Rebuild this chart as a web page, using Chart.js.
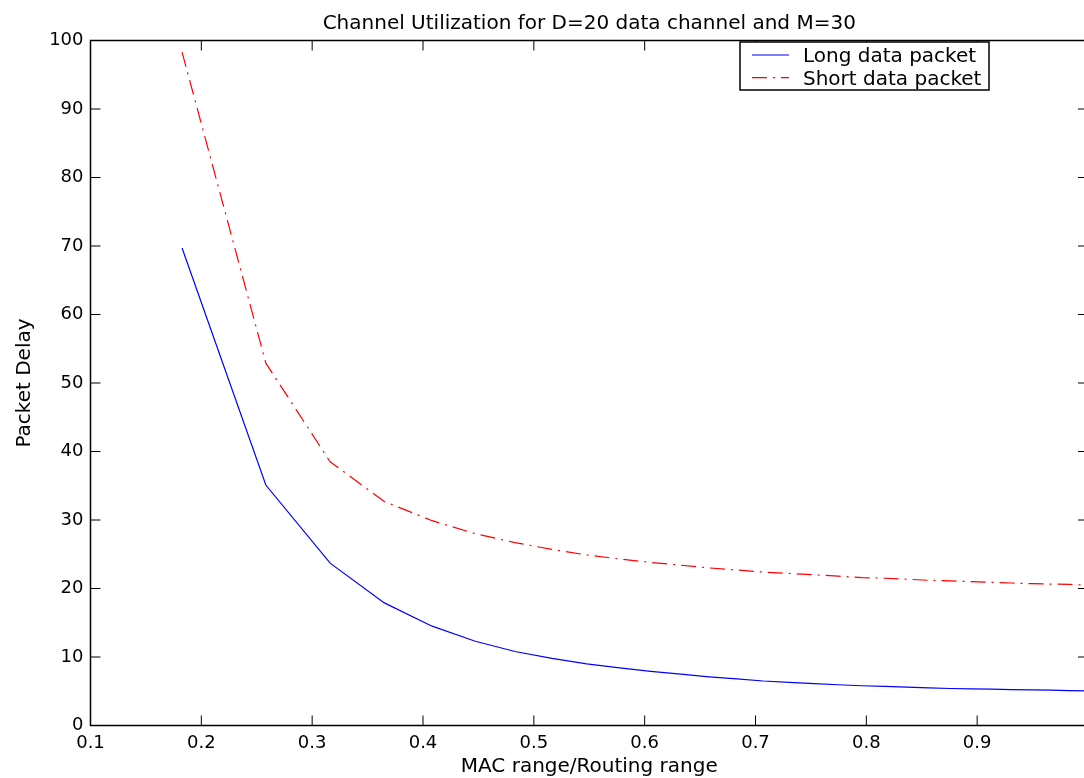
<!DOCTYPE html>
<html lang="en">
<head>
  <meta charset="UTF-8">
  <title>Channel Utilization for D=20 data channel and M=30</title>
  <script src="https://cdn.jsdelivr.net/npm/chart.js"></script>
  <style>
    html, body { margin: 0; padding: 0; background: #fff; overflow: hidden; }
    canvas { display: block; }
  </style>
</head>
<body>
  <canvas id="delayChart" width="1100" height="778"></canvas>

  <script>
    // MAC range / routing range of each run
    const ratio = [
      0.1826, 0.2582, 0.3162, 0.3651, 0.4082, 0.4472, 0.4830, 0.5164, 0.5477, 0.5774,
      0.6055, 0.6325, 0.6583, 0.6831, 0.7071, 0.7303, 0.7528, 0.7746, 0.7958, 0.8165,
      0.8367, 0.8563, 0.8756, 0.8944, 0.9129, 0.9309, 0.9487, 0.9661, 0.9832, 1.0000
    ];

    // packet delay, long data packets
    const longPacket = [
      69.7, 35.1, 23.7, 17.9, 14.5, 12.3, 10.8, 9.8, 9.0, 8.4,
      7.9, 7.5, 7.1, 6.8, 6.5, 6.3, 6.1, 5.95, 5.8, 5.7,
      5.6, 5.5, 5.4, 5.35, 5.3, 5.25, 5.2, 5.15, 5.1, 5.05
    ];

    // packet delay, short data packets
    const shortPacket = [
      98.3, 52.9, 38.5, 32.7, 29.9, 28.0, 26.7, 25.7, 24.9, 24.3,
      23.8, 23.4, 23.0, 22.7, 22.4, 22.2, 22.0, 21.8, 21.6, 21.5,
      21.35, 21.2, 21.1, 21.0, 20.9, 20.8, 20.7, 20.65, 20.6, 20.5
    ];

    const seriesNames = ['Long data packet', 'Short data packet'];

    const FONT = 'DejaVu Sans';
    Chart.defaults.font.family = FONT;
    Chart.defaults.color = '#000';

    function points(ys) {
      return ratio.map((r, i) => ({ x: r, y: ys[i] }));
    }

    // box round the plot with ticks pointing inward on all four sides
    const boxFrame = {
      id: 'boxFrame',
      afterDraw(chart) {
        const { ctx, chartArea: a, scales: { x, y } } = chart;
        ctx.save();
        ctx.strokeStyle = '#000';
        ctx.lineWidth = 1;
        ctx.beginPath();
        x.ticks.forEach(t => {
          const px = x.getPixelForValue(t.value);
          ctx.moveTo(px, a.bottom); ctx.lineTo(px, a.bottom - 10);
          ctx.moveTo(px, a.top); ctx.lineTo(px, a.top + 10);
        });
        y.ticks.forEach(t => {
          const py = y.getPixelForValue(t.value);
          ctx.moveTo(a.left, py); ctx.lineTo(a.left + 10, py);
          ctx.moveTo(a.right, py); ctx.lineTo(a.right - 10, py);
        });
        ctx.stroke();
        ctx.lineWidth = 1.5;
        ctx.strokeRect(a.left, a.top, a.right - a.left, a.bottom - a.top);
        ctx.restore();
      }
    };

    // legend box in the upper right of the axes
    const boxLegend = {
      id: 'boxLegend',
      afterDraw(chart) {
        const { ctx } = chart;
        const left = 740, top = 42, w = 249, h = 48;
        ctx.save();
        ctx.fillStyle = '#fff';
        ctx.fillRect(left, top, w, h);
        ctx.strokeStyle = '#000';
        ctx.lineWidth = 1.5;
        ctx.strokeRect(left, top, w, h);
        ctx.font = '20px "' + FONT + '"';
        ctx.textBaseline = 'alphabetic';
        chart.data.datasets.forEach((ds, i) => {
          const ly = top + 13 + i * 22.7;
          ctx.beginPath();
          ctx.strokeStyle = ds.borderColor;
          ctx.lineWidth = ds.borderWidth;
          ctx.setLineDash(ds.borderDash || []);
          ctx.moveTo(752, ly);
          ctx.lineTo(789, ly);
          ctx.stroke();
          ctx.setLineDash([]);
          ctx.fillStyle = '#000';
          ctx.fillText(ds.label, 803, ly + 7);
        });
        ctx.restore();
      }
    };

    new Chart(document.getElementById('delayChart'), {
      type: 'line',
      data: {
        datasets: [
          {
            label: seriesNames[0],
            data: points(longPacket),
            borderColor: '#0000ff',
            borderWidth: 1.2,
            pointRadius: 0,
            tension: 0,
            fill: false
          },
          {
            label: seriesNames[1],
            data: points(shortPacket),
            borderColor: '#ff0000',
            borderWidth: 1.2,
            borderDash: [15, 6, 2, 6],
            pointRadius: 0,
            tension: 0,
            fill: false
          }
        ]
      },
      options: {
        responsive: false,
        animation: false,
        layout: { padding: { right: 12 } },
        plugins: {
          legend: { display: false },
          tooltip: { enabled: false },
          title: {
            display: true,
            fullSize: false,
            text: 'Channel Utilization for D=20 data channel and M=30',
            color: '#000',
            font: { family: FONT, size: 20, weight: 'normal', lineHeight: 1.2 },
            padding: { top: 12, bottom: 4.5 }
          }
        },
        scales: {
          x: {
            type: 'linear',
            min: 0.1,
            max: 1.0,
            grid: { display: false, drawTicks: false },
            border: { display: false },
            ticks: {
              stepSize: 0.1,
              padding: 7,
              font: { family: FONT, size: 18 },
              color: '#000',
              maxRotation: 0,
              // the label at 1 sits on the cut right edge, leave it out
              callback: v => (v > 0.95 ? '' : Number(v.toFixed(1)).toString())
            },
            title: {
              display: true,
              text: 'MAC range/Routing range',
              font: { family: FONT, size: 20, lineHeight: 1.1 },
              color: '#000',
              padding: { top: 0, bottom: 0 }
            },
            afterFit: s => { s.height = 52.5; }
          },
          y: {
            min: 0,
            max: 100,
            grid: { display: false, drawTicks: false },
            border: { display: false },
            ticks: {
              stepSize: 10,
              padding: 7,
              font: { family: FONT, size: 18 },
              color: '#000'
            },
            title: {
              display: true,
              text: 'Packet Delay',
              font: { family: FONT, size: 20, lineHeight: 1.2 },
              color: '#000',
              padding: { top: 13, bottom: 0 }
            },
            afterFit: s => { s.width = 90.5; }
          }
        }
      },
      plugins: [boxFrame, boxLegend]
    });
  </script>
</body>
</html>
